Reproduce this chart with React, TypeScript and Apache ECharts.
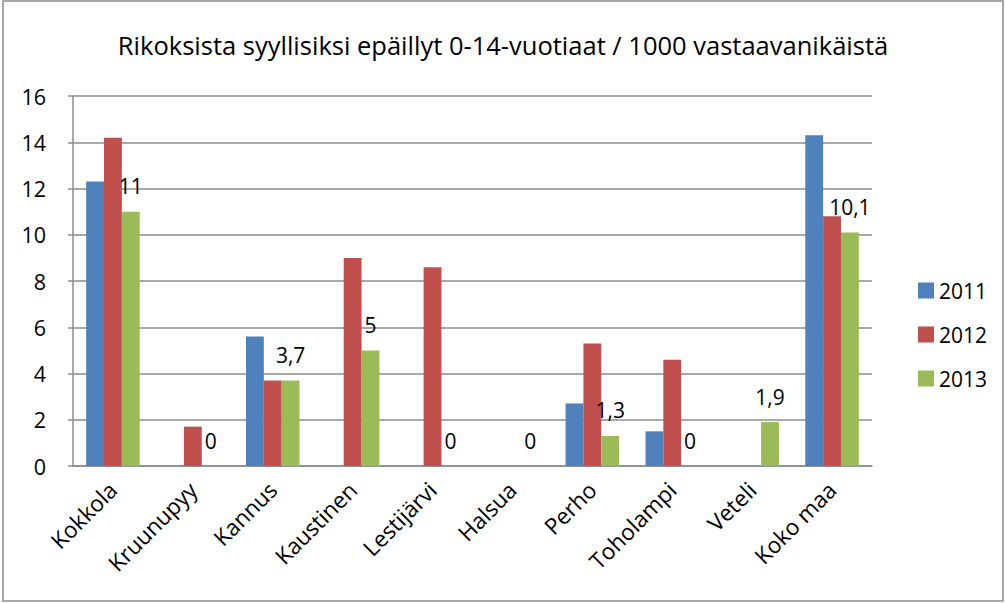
import React, { useEffect, useRef } from "react";
import * as echarts from "echarts";

const TITLE = "Rikoksista syyllisiksi epäillyt 0-14-vuotiaat / 1000 vastaavanikäistä";
const categories = ["Kokkola", "Kruunupyy", "Kannus", "Kaustinen", "Lestijärvi", "Halsua", "Perho", "Toholampi", "Veteli", "Koko maa"];
const seriesNames = ["2011", "2012", "2013"];
const values2011: (number | null)[] = [12.3, null, 5.6, null, null, null, 2.7, 1.5, null, 14.3];
const values2012: (number | null)[] = [14.2, 1.7, 3.7, 9.0, 8.6, null, 5.3, 4.6, null, 10.8];
const values2013: (number | null)[] = [11, 0, 3.7, 5, 0, 0, 1.3, 0, 1.9, 10.1];
const colors = ["#4F81BD", "#C0504D", "#9BBB59"];
const yTicks = { min: 0, max: 16, interval: 2 };

const FONT = "'Open Sans', sans-serif";

export default function App() {
  const ref = useRef<HTMLDivElement>(null);
  useEffect(() => {
    if (!ref.current) return;
    const chart = echarts.init(ref.current, undefined, { renderer: "svg" });
    const fmt = (p: any) => String(p.value).replace(".", ",");
    chart.setOption({
      animation: false,
      backgroundColor: "#ffffff",
      title: {
        text: TITLE,
        left: "center",
        top: 27,
        textStyle: { fontFamily: FONT, fontSize: 25.5, fontWeight: "normal", color: "#000" },
      },
      legend: {
        orient: "vertical",
        left: 913,
        top: 275,
        itemGap: 23,
        itemWidth: 16,
        itemHeight: 16,
        icon: "rect",
        textStyle: { fontFamily: FONT, fontSize: 21, color: "#000" },
      },
      grid: { left: 73, right: 134, top: 96, bottom: 137 },
      xAxis: {
        type: "category",
        data: categories,
        axisLine: { lineStyle: { color: "#8c8c8c", width: 1.5 } },
        axisTick: { show: false },
        axisLabel: { rotate: 45, interval: 0, fontFamily: FONT, fontSize: 22.5, color: "#000", margin: 20 },
      },
      yAxis: {
        type: "value",
        min: yTicks.min,
        max: yTicks.max,
        interval: yTicks.interval,
        axisLine: { show: true, lineStyle: { color: "#8c8c8c", width: 1.5 } },
        axisTick: { show: true, length: 5, lineStyle: { color: "#8c8c8c", width: 1.5 } },
        axisLabel: { fontFamily: FONT, fontSize: 21.5, color: "#000", margin: 27 },
        splitLine: { lineStyle: { color: "#8c8c8c", width: 1.5 } },
      },
      series: [values2011, values2012, values2013].map((d, i) => ({
        name: seriesNames[i],
        type: "bar",
        data: d,
        barGap: "0%",
        barCategoryGap: "33%",
        itemStyle: { color: colors[i] },
        label: i === 2
          ? { show: true, position: "top", distance: 15, formatter: fmt, fontFamily: FONT, fontSize: 21, color: "#000" }
          : { show: false },
      })),
      graphic: [
        {
          type: "rect",
          shape: { x: 3, y: 1, width: 1000, height: 600 },
          style: { fill: "none", stroke: "#8c8c8c", lineWidth: 1.5 },
          silent: true,
        },
      ],
    });
    return () => chart.dispose();
  }, []);
  return (
    <div
      ref={ref}
      style={{ position: "fixed", left: 0, top: 0, width: 1006, height: 603 }}
    />
  );
}
